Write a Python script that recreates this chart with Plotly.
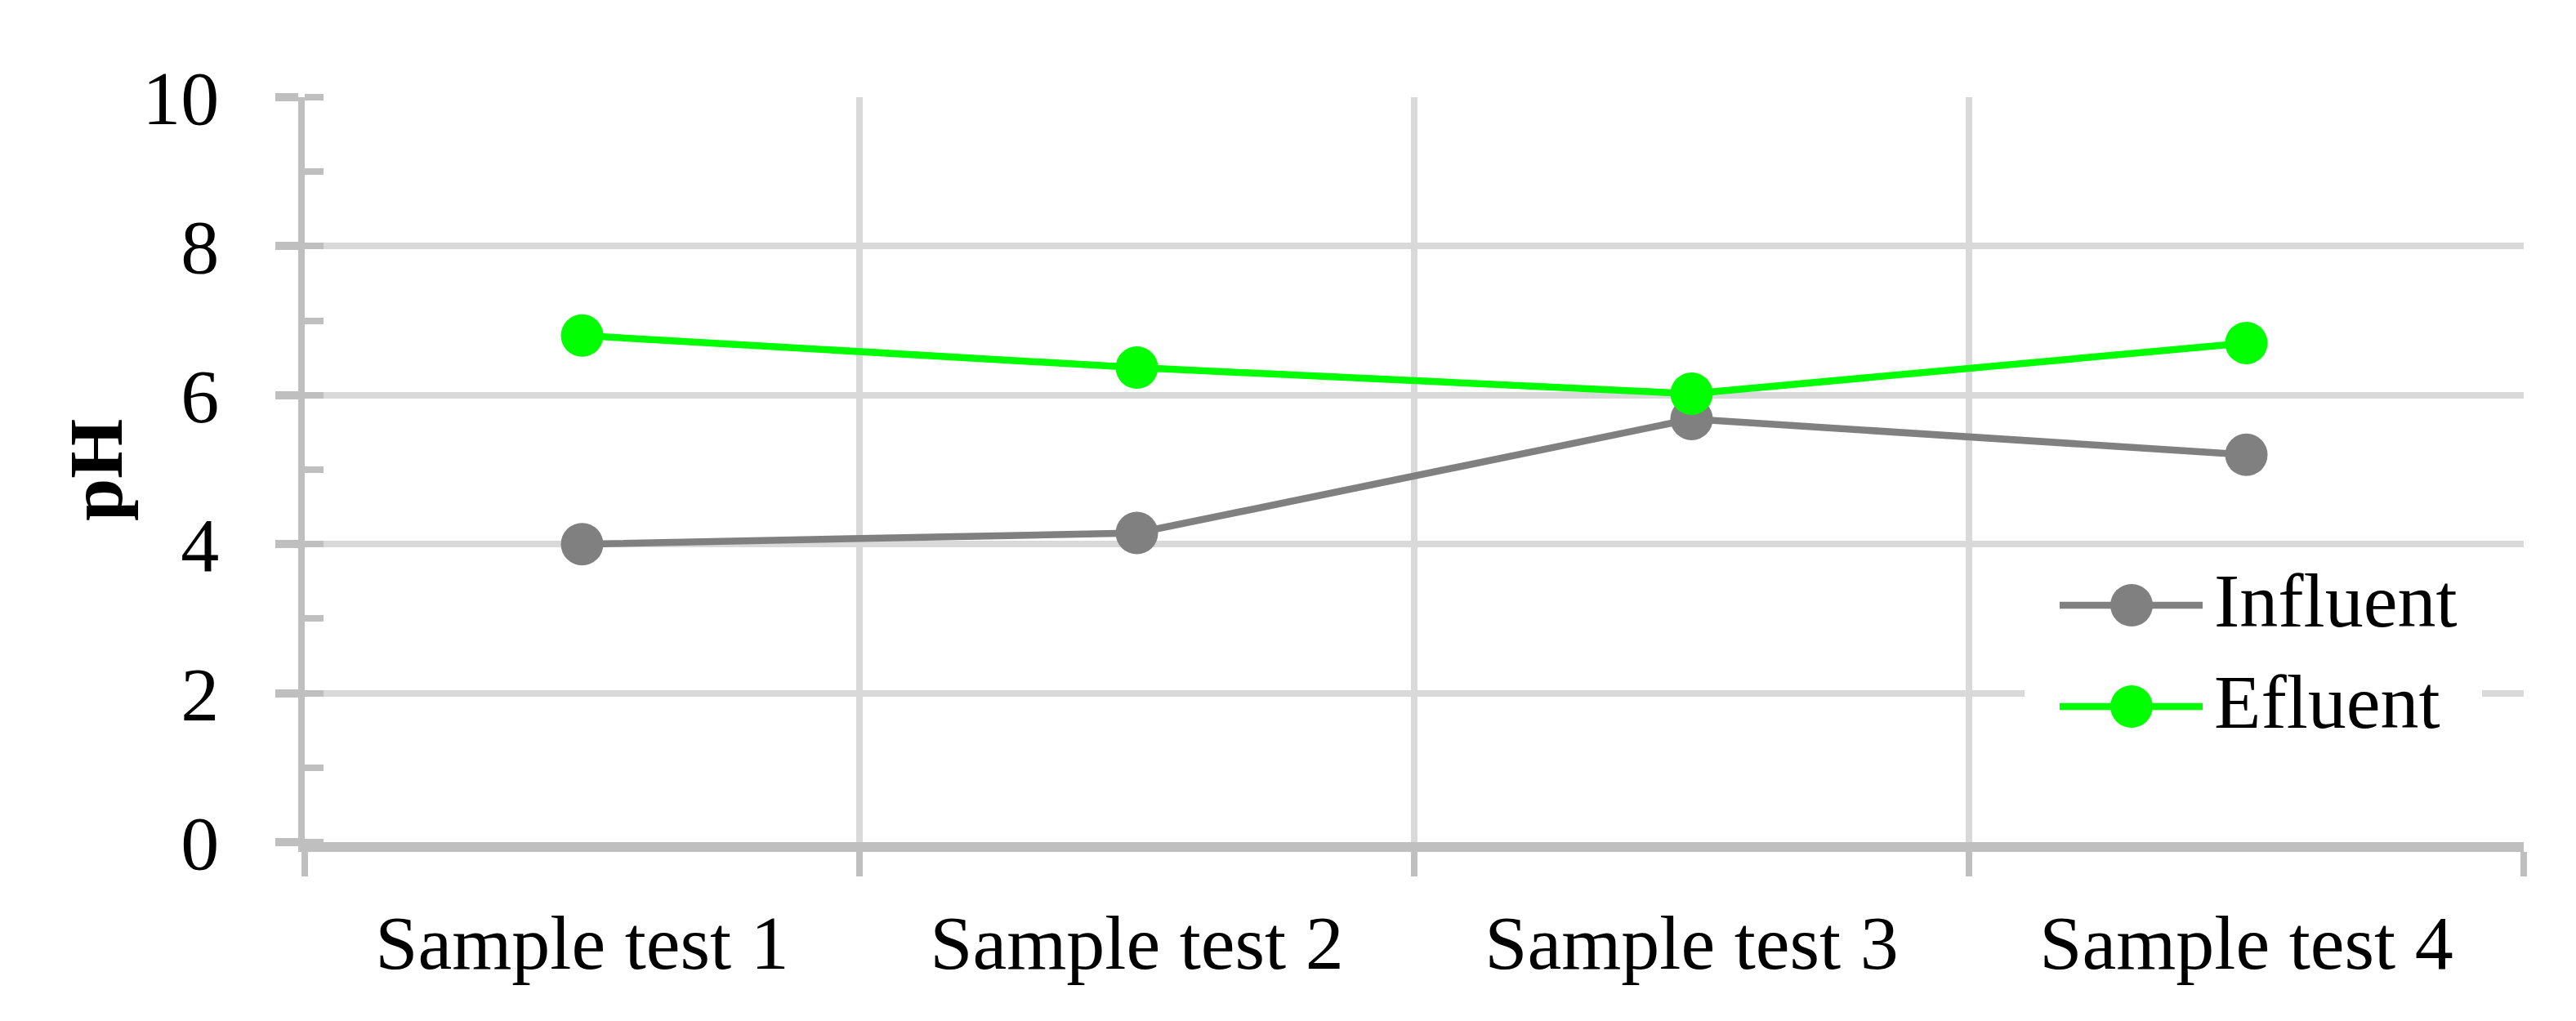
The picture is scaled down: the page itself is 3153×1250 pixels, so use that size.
import plotly.graph_objects as go

# ---- data ----
categories = ["Sample test 1", "Sample test 2", "Sample test 3", "Sample test 4"]
influent = [4.0, 4.15, 5.68, 5.2]
efluent = [6.8, 6.37, 6.02, 6.7]
series_names = ["Influent", "Efluent"]
series_colors = ["#808080", "#00ff00"]
y_tick_vals = [0, 2, 4, 6, 8, 10]
y_title = "pH"

# ---- layout geometry (pixels) ----
W, H = 3153, 1250
L, R, T, B = 365, 3081, 111, 1023
FONT = "Liberation Serif, Times New Roman, serif"
FS = 94
LW = 8.5
MS = 52

def px_x(px):
    return (px - L) / (R - L)

def px_y(py):
    return (B - py) / (B - T)

fig = go.Figure()
for name, vals, col in zip(series_names, [influent, efluent], series_colors):
    fig.add_trace(go.Scatter(
        x=categories, y=vals, name=name, mode="lines+markers",
        line=dict(color=col, width=LW),
        marker=dict(color=col, size=MS, line=dict(width=0)),
        showlegend=False,
    ))

# custom legend (large glyphs like the original)
legend_rows = [733, 857]
shapes = [dict(type="rect", xref="paper", yref="paper",
               x0=px_x(2470), x1=px_x(3030), y0=px_y(915), y1=px_y(672),
               fillcolor="white", line=dict(width=0), layer="above")]
annotations = []
for name, col, ry in zip(series_names, series_colors, legend_rows):
    shapes.append(dict(type="line", xref="paper", yref="paper",
                       x0=px_x(2513), x1=px_x(2688), y0=px_y(ry), y1=px_y(ry),
                       line=dict(color=col, width=LW), layer="above"))
    shapes.append(dict(type="circle", xref="paper", yref="paper",
                       xsizemode="pixel", ysizemode="pixel",
                       xanchor=px_x(2601), yanchor=px_y(ry),
                       x0=-MS / 2, x1=MS / 2, y0=-MS / 2, y1=MS / 2,
                       fillcolor=col, line=dict(width=0), layer="above"))
    annotations.append(dict(text=name, xref="paper", yref="paper",
                            x=px_x(2700), y=px_y(ry - 6), xanchor="left", yanchor="middle",
                            showarrow=False, font=dict(family=FONT, size=FS, color="black")))

# y-axis title placed precisely
annotations.append(dict(text="<b>" + y_title + "</b>", xref="paper", yref="paper",
                        x=px_x(109), y=px_y(568), xanchor="center", yanchor="middle",
                        textangle=-90, showarrow=False,
                        font=dict(family=FONT, size=FS, color="black")))

fig.update_layout(
    width=W, height=H,
    margin=dict(l=L, r=W - R, t=T, b=H - B),
    paper_bgcolor="white", plot_bgcolor="white",
    font=dict(family=FONT, size=FS, color="black"),
    shapes=shapes, annotations=annotations,
    showlegend=False,
)
fig.update_xaxes(
    type="category", range=[-0.5, 3.5],
    tickson="boundaries", ticks="outside", ticklen=30, tickwidth=8, tickcolor="#bfbfbf",
    showline=True, linecolor="#bfbfbf", linewidth=12,
    showgrid=True, gridcolor="#d9d9d9", gridwidth=8,
    tickfont=dict(family=FONT, size=FS, color="black"),
    ticklabelstandoff=30,
    zeroline=False,
)
fig.update_yaxes(
    range=[0, 10], tickvals=y_tick_vals,
    ticks="outside", ticklen=28, tickwidth=10, tickcolor="#bfbfbf",
    minor=dict(dtick=1, ticks="inside", ticklen=23, tickwidth=8, tickcolor="#bfbfbf", showgrid=False),
    showline=True, linecolor="#bfbfbf", linewidth=8,
    showgrid=True, gridcolor="#d9d9d9", gridwidth=8,
    tickfont=dict(family=FONT, size=FS, color="black"),
    ticklabelstandoff=50,
    zeroline=False,
)

fig.write_html("out.html")
